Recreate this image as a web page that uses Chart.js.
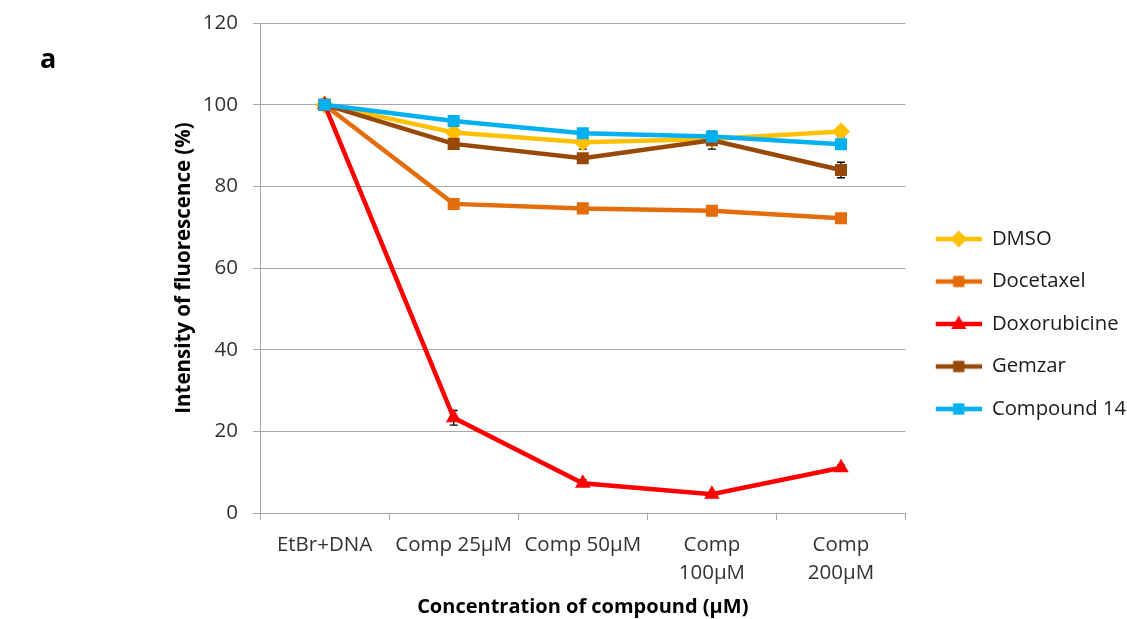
<!DOCTYPE html>
<html>
<head>
<meta charset="utf-8">
<script src="https://cdn.jsdelivr.net/npm/chart.js@4/dist/chart.umd.min.js"></script>
<style>
html,body{margin:0;padding:0;background:#fff;}
#c{display:block;}
</style>
</head>
<body>
<canvas id="c" width="1127" height="619"></canvas>
<script>
const categories = ["EtBr+DNA", "Comp 25µM", "Comp 50µM", ["Comp", "100µM"], ["Comp", "200µM"]];
const yTicks = [0, 20, 40, 60, 80, 100, 120];

const dmso         = [100, 93.2, 90.8, 91.6, 93.4];
const docetaxel    = [100, 75.7, 74.6, 74.0, 72.2];
const doxorubicine = [100, 23.3, 7.3, 4.6, 11.1];
const gemzar       = [100, 90.4, 86.9, 91.3, 84.0];
const compound14   = [100, 96.0, 93.0, 92.2, 90.3];

const dmsoErr         = [0.5, 1.0, 1.7, 1.2, 1.2];
const docetaxelErr    = [0.5, 0.6, 0.7, 0.5, 0.6];
const doxorubicineErr = [0.5, 1.8, 0.8, 0.5, 0.6];
const gemzarErr       = [0.5, 0.8, 0.8, 2.2, 1.9];
const compound14Err   = [0.5, 0.8, 0.6, 0.8, 0.8];

const seriesNames = ["DMSO", "Docetaxel", "Doxorubicine", "Gemzar", "Compound 14"];

const FONT = "'Open Sans', 'Noto Sans', sans-serif";

const ICON_W = 54, ICON_H = 20, LINE_START = 8;
function legendIcon(color, style, r) {
  const cv = document.createElement('canvas');
  cv.width = ICON_W; cv.height = ICON_H;
  const ctx = cv.getContext('2d');
  const cy = ICON_H / 2;
  const cx = (LINE_START + ICON_W) / 2;
  ctx.strokeStyle = color; ctx.lineWidth = 4.5;
  ctx.beginPath(); ctx.moveTo(LINE_START, cy); ctx.lineTo(ICON_W, cy); ctx.stroke();
  ctx.fillStyle = color;
  ctx.beginPath();
  if (style === 'rect') {
    const s = r * Math.SQRT1_2;
    ctx.rect(cx - s, cy - s, 2 * s, 2 * s);
  } else if (style === 'rectRot') {
    ctx.moveTo(cx, cy - r); ctx.lineTo(cx + r, cy); ctx.lineTo(cx, cy + r); ctx.lineTo(cx - r, cy); ctx.closePath();
  } else if (style === 'triangle') {
    ctx.moveTo(cx, cy - r); ctx.lineTo(cx + r * 0.9, cy + r * 0.6); ctx.lineTo(cx - r * 0.9, cy + r * 0.6); ctx.closePath();
  }
  ctx.fill();
  return cv;
}

const colors = ['#FFC000', '#E46C0A', '#FF0000', '#984807', '#00B0F0'];
const styles = ['rectRot', 'rect', 'triangle', 'rect', 'rect'];
const radii  = [9, 8.5, 9, 8.5, 8.5];
const values = [dmso, docetaxel, doxorubicine, gemzar, compound14];
const errs   = [dmsoErr, docetaxelErr, doxorubicineErr, gemzarErr, compound14Err];

const datasets = values.map((v, i) => ({
  label: seriesNames[i],
  data: v,
  borderColor: colors[i],
  backgroundColor: colors[i],
  borderWidth: 4.5,
  pointStyle: styles[i],
  pointRadius: radii[i],
  pointBorderWidth: 0,
  pointHoverRadius: radii[i],
  tension: 0,
  order: 5 - i,
  errors: errs[i]
}));

const errorBars = {
  id: 'errorBars',
  beforeDatasetsDraw(chart) {
    const ctx = chart.ctx;
    const y = chart.scales.y;
    ctx.save();
    ctx.strokeStyle = '#000';
    ctx.lineWidth = 1.3;
    chart.data.datasets.forEach((ds, i) => {
      const meta = chart.getDatasetMeta(i);
      meta.data.forEach((pt, j) => {
        const e = ds.errors[j];
        const v = ds.data[j];
        const y1 = y.getPixelForValue(v + e);
        const y2 = y.getPixelForValue(v - e);
        ctx.beginPath();
        ctx.moveTo(pt.x, y1); ctx.lineTo(pt.x, y2);
        ctx.moveTo(pt.x - 4, y1); ctx.lineTo(pt.x + 4, y1);
        ctx.moveTo(pt.x - 4, y2); ctx.lineTo(pt.x + 4, y2);
        ctx.stroke();
      });
    });
    ctx.restore();
  }
};

const panelLabel = {
  id: 'panelLabel',
  afterDraw(chart) {
    const ctx = chart.ctx;
    ctx.save();
    ctx.fillStyle = '#000';
    ctx.font = "bold 27px " + FONT;
    ctx.textBaseline = 'middle';
    ctx.textAlign = 'left';
    ctx.fillText('a', 40, 60);
    ctx.restore();
  }
};

new Chart(document.getElementById('c'), {
  type: 'line',
  data: { labels: categories, datasets: datasets },
  options: {
    responsive: false,
    animation: false,
    events: [],
    layout: { padding: { left: 168, top: 23, right: -9, bottom: -6 } },
    plugins: {
      tooltip: { enabled: false },
      legend: {
        position: 'right',
        align: 'center',
        labels: {
          usePointStyle: true,
          pointStyleWidth: ICON_W,
          font: { family: FONT, size: 20.3 },
          color: '#1a1a1a',
          padding: 22.2,
          sort: (a, b) => a.datasetIndex - b.datasetIndex,
          generateLabels(chart) {
            return chart.data.datasets.map((ds, i) => ({
              text: ds.label,
              fillStyle: ds.borderColor,
              strokeStyle: ds.borderColor,
              lineWidth: 0,
              pointStyle: legendIcon(colors[i], styles[i], radii[i] - 0.5),
              datasetIndex: i,
              hidden: false,
              fontColor: '#1a1a1a'
            }));
          }
        }
      }
    },
    scales: {
      x: {
        offset: true,
        grid: {
          offset: true,
          drawOnChartArea: false,
          drawTicks: true,
          tickLength: 7,
          color: '#a6a6a6'
        },
        border: { color: '#a6a6a6', width: 1 },
        ticks: {
          font: { family: FONT, size: 20.5, lineHeight: 1.37 },
          color: '#333',
          padding: 11,
          maxRotation: 0,
          autoSkip: false
        },
        title: {
          display: true,
          text: 'Concentration of compound (µM)',
          font: { family: FONT, size: 20, weight: 'bold' },
          color: '#000',
          padding: { top: 4, bottom: 6 }
        },
        afterFit(scale) { scale.height = 112; }
      },
      y: {
        min: 0,
        max: 120,
        afterBuildTicks(scale) { scale.ticks = yTicks.map(v => ({ value: v })); },
        grid: {
          color: '#a6a6a6',
          tickLength: 7,
          drawTicks: true
        },
        border: { color: '#a6a6a6', width: 1 },
        ticks: {
          font: { family: FONT, size: 20.5, lineHeight: 0.6 },
          color: '#333',
          padding: 15
        },
        title: {
          display: true,
          text: 'Intensity of fluorescence (%)',
          font: { family: FONT, size: 20.5, weight: 'bold' },
          color: '#000',
          padding: { top: 4, bottom: 4 }
        },
        afterFit(scale) { scale.width = 260 - 168; }
      }
    }
  },
  plugins: [errorBars, panelLabel]
});
</script>
</body>
</html>
